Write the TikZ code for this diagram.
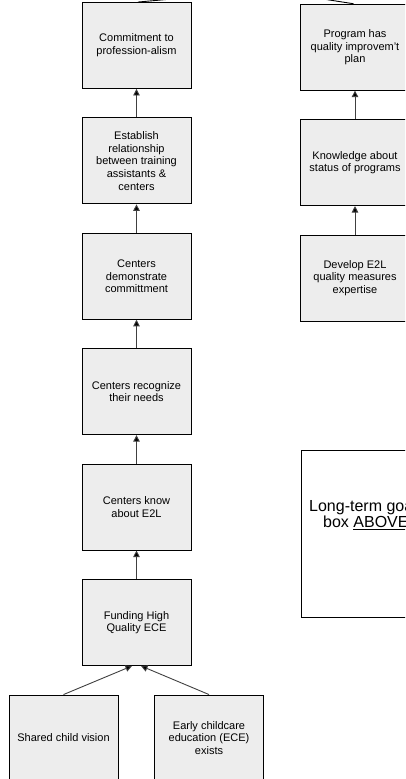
\documentclass[tikz,border=0pt]{standalone}
\usepackage{fontspec}
\setmainfont{Liberation Sans}
\usetikzlibrary{positioning,arrows.meta}

\begin{document}
\begin{tikzpicture}[x=1pt,y=-1pt,
            node distance=28.5pt,
            box/.style={draw=black, line width=0.9pt, fill=black!7, minimum width=109pt, minimum height=86pt, inner sep=2pt, align=center, font=\fontsize{11}{12.7}\selectfont},
            arr/.style={draw=black!75, line width=0.9pt, -{Triangle[length=6.5pt,width=6.5pt,fill=black]}}]
            \useasboundingbox (0,0) rectangle (405,779);
            \clip (0,0) rectangle (405,779);
            % left chain
            \node [box] (fund) at (136.5,622.5) {Funding High\\Quality ECE};
            \node [box, above=of fund] (know) {Centers know\\about E2L};
            \node [box, above=of know] (needs) {Centers recognize\\their needs};
            \node [box, above=of needs] (demo) {Centers\\demonstrate\\committment};
            \node [box, above=of demo] (relat) {Establish\\relationship\\between training\\assistants \&\\centers};
            \node [box, above=of relat] (prof) {Commitment to\\profession-alism};
            \node [box] (vision) at (63.5,738) {Shared child vision};
            \node [box] (ece) at (209,738) {Early childcare\\education (ECE)\\exists};
            % right chain
            \node [box] (expert) at (355,278) {Develop E2L\\quality measures\\expertise};
            \node [box, above=of expert] (status) {Knowledge about\\status of programs};
            \node [box, above=of status] (plan) {Program has\\quality improvem't\\plan};
            % goal box
            \node [draw=black, line width=0.9pt, fill=white, minimum width=220pt, minimum height=167pt, anchor=north west] (goal) at (301,450) {};
            \node [anchor=west, align=left, inner sep=0pt, font=\fontsize{16}{14.5}\selectfont] (goaltxt) at (309,515) {Long-term goal\\\hspace*{14pt}box \underline{ABOVE}};
            \coordinate (profup) at (172,-1);
            \coordinate (planup) at (323,-1);
            % connectors
            \draw [arr] (vision.north) -- ([xshift=-4.5pt]fund.south);
            \draw [arr] (ece.north) -- ([xshift=4.5pt]fund.south);
            \draw [arr] (fund) -- (know);
            \draw [arr] (know) -- (needs);
            \draw [arr] (needs) -- (demo);
            \draw [arr] (demo) -- (relat);
            \draw [arr] (relat) -- (prof);
            \draw [arr] (expert) -- (status);
            \draw [arr] (status) -- (plan);
            \draw [black, line width=0.9pt] ([xshift=1.5pt]prof.north) -- (profup);
            \draw [black, line width=0.9pt] ([xshift=-1.5pt]plan.north) -- (planup);
\end{tikzpicture}
\end{document}
